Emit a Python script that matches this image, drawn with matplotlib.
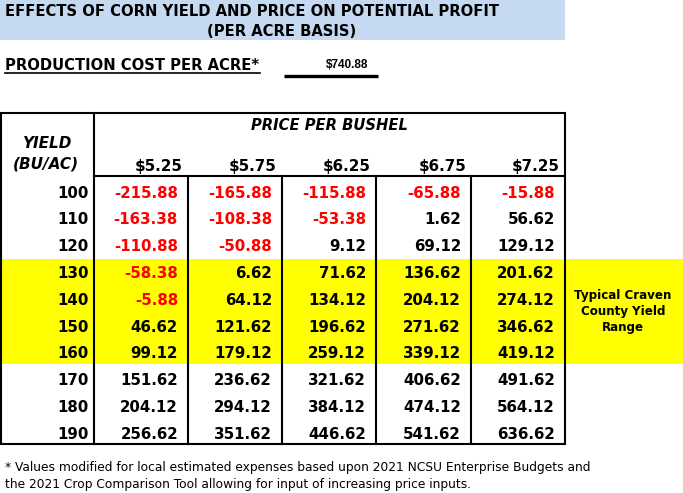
from matplotlib import pyplot as plt
import matplotlib.patches as mpatches

# %% data read from the table
yields = [100, 110, 120, 130, 140, 150, 160, 170, 180, 190]
price_labels = ['$5.25', '$5.75', '$6.25', '$6.75', '$7.25']
profit = [
    [-215.88, -165.88, -115.88, -65.88, -15.88],
    [-163.38, -108.38, -53.38, 1.62, 56.62],
    [-110.88, -50.88, 9.12, 69.12, 129.12],
    [-58.38, 6.62, 71.62, 136.62, 201.62],
    [-5.88, 64.12, 134.12, 204.12, 274.12],
    [46.62, 121.62, 196.62, 271.62, 346.62],
    [99.12, 179.12, 259.12, 339.12, 419.12],
    [151.62, 236.62, 321.62, 406.62, 491.62],
    [204.12, 294.12, 384.12, 474.12, 564.12],
    [256.62, 351.62, 446.62, 541.62, 636.62],
]
typical_rows = [130, 160]   # yellow highlighted range
prod_cost = '$740.88'

title1 = 'EFFECTS OF CORN YIELD AND PRICE ON POTENTIAL PROFIT'
title2 = '(PER ACRE BASIS)'
footnote = ('* Values modified for local estimated expenses based upon 2021 NCSU Enterprise Budgets and\n'
            'the 2021 Crop Comparison Tool allowing for input of increasing price inputs.')

# %% layout (pixel space)
W, H = 683, 493
fig = plt.figure(figsize=(W / 100, H / 100), dpi=100)
ax = fig.add_axes([0, 0, 1, 1])
ax.set_xlim(0, W)
ax.set_ylim(H, 0)
ax.axis('off')

FONT = 'DejaVu Sans'
LW = 1.5
col_x = [94, 188, 282, 376, 471, 565]
row_y0, row_dy = 193, 26.8
top, hdr, bottom, left = 113, 176, 444, 1

# title band
ax.add_patch(mpatches.Rectangle((0, 0), 565, 40, color='#C5D9F1', lw=0))
ax.text(5, 12, title1, fontsize=10.6, fontweight='bold', family=FONT, va='center', ha='left')
ax.text(282, 31, title2, fontsize=10.6, fontweight='bold', family=FONT, va='center', ha='center')

# production cost line
ax.text(5, 65, 'PRODUCTION COST PER ACRE*', fontsize=10.6, fontweight='bold', family=FONT,
        va='center', ha='left')
ax.plot([5, 260], [73, 73], color='black', lw=1.2)
ax.text(368, 65, prod_cost, fontsize=8.5, fontweight='bold', family='Liberation Sans',
        va='center', ha='right')
ax.plot([284, 378], [75.5, 75.5], color='black', lw=2.4, solid_capstyle='butt')

# yellow typical range
ax.add_patch(mpatches.Rectangle((0, 259), W, 364 - 259, color='#FFFF00', lw=0))
for k, line in enumerate(['Typical Craven', 'County Yield', 'Range']):
    ax.text(623, 295 + k * 16, line, fontsize=8.6, fontweight='bold', family=FONT,
            ha='center', va='center')

# table frame
ax.add_patch(mpatches.Rectangle((left, top), col_x[-1] - left, bottom - top, fill=False,
                                ec='black', lw=LW))
ax.plot([col_x[0], col_x[0]], [top, bottom], color='black', lw=LW)
ax.plot([col_x[0], col_x[-1]], [hdr, hdr], color='black', lw=LW)
for x in col_x[1:-1]:
    ax.plot([x, x], [hdr, bottom], color='black', lw=LW)

# headers
ax.text(329, 125, 'PRICE PER BUSHEL', fontsize=10.6, fontweight='bold',
        style='italic', family=FONT, ha='center', va='center')
ax.text(47, 144, 'YIELD', fontsize=11, fontweight='bold', style='italic', family=FONT,
        ha='center', va='center')
ax.text(46, 164, '(BU/AC)', fontsize=11, fontweight='bold', style='italic', family=FONT,
        ha='center', va='center')
for j, lab in enumerate(price_labels):
    ax.text(col_x[j + 1] - 5, 166, lab, fontsize=10.9, fontweight='bold', family=FONT,
            ha='right', va='center')

# body
for i, yv in enumerate(yields):
    y = row_y0 + i * row_dy
    ax.text(col_x[0] - 5, y, str(yv), fontsize=10.8, fontweight='bold', family=FONT,
            ha='right', va='center')
    for j, v in enumerate(profit[i]):
        ax.text(col_x[j + 1] - 10, y, f'{v:.2f}', fontsize=10.8, fontweight='bold', family=FONT,
                ha='right', va='center', color='#FF0000' if v < 0 else 'black')

# footnote
ax.text(5, 476, footnote, fontsize=8.8, family=FONT, ha='left', va='center', linespacing=1.4)

fig.savefig('out.png', dpi=100)
